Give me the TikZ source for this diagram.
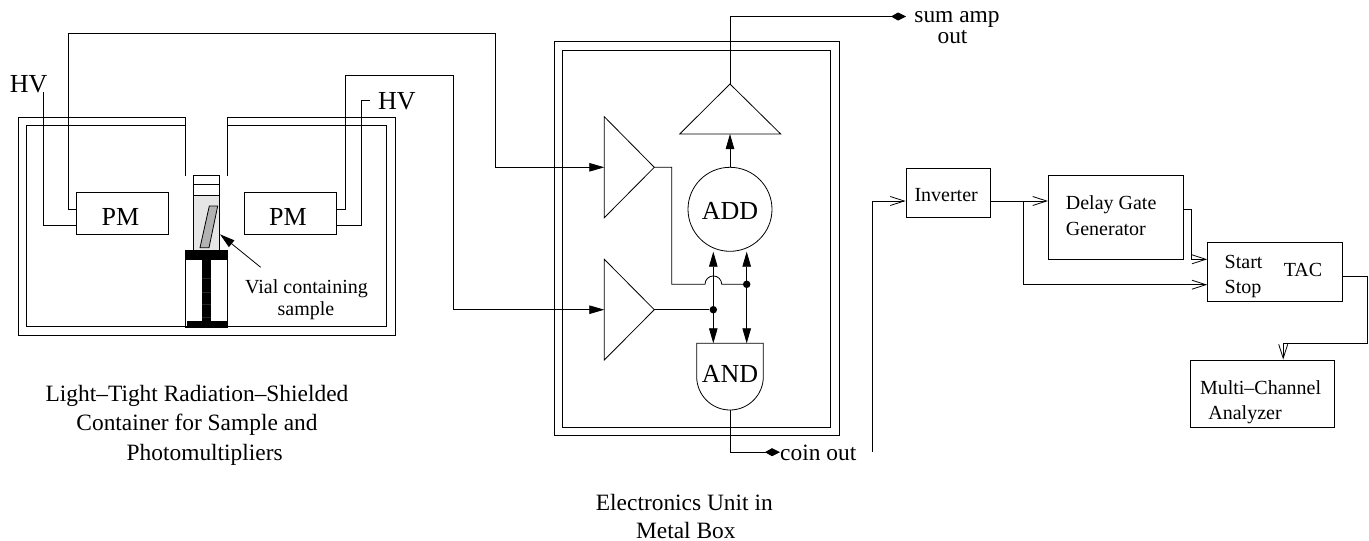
\documentclass[tikz,border=0pt]{standalone}
\usepackage{fontspec}
\setmainfont{Liberation Serif}
\usetikzlibrary{positioning, calc, arrows.meta}

\tikzset{
  wire/.style={draw=black, line width=0.8pt},
  sigwire/.style={wire, -{Triangle[length=15pt,width=8.5pt]}},
  bothwire/.style={wire, {Triangle[length=15pt,width=8.5pt]}-{Triangle[length=15pt,width=8.5pt]}},
  outwire/.style={wire, -{Kite[length=15pt,width=8pt,inset=7pt]}},
  barbwire/.style={wire, -{Straight Barb[length=14pt,width=9pt,line width=0.8pt]}},
  block/.style={draw=black, line width=0.8pt, inner sep=0pt, rectangle},
  bigtext/.style={font=\fontsize{26}{28}\selectfont, inner sep=0pt, anchor=base},
  smalltext/.style={font=\fontsize{20}{25}\selectfont, inner sep=0pt, anchor=base west},
  vialtext/.style={font=\fontsize{20}{22}\selectfont, inner sep=0pt, anchor=base},
  captext/.style={font=\fontsize{23.4}{29}\selectfont, inner sep=0pt, anchor=base},
  junct/.style={circle, fill=black, inner sep=0pt, minimum size=7.5pt}
}

\begin{document}
\begin{tikzpicture}[x=1pt, y=-1pt]
  \useasboundingbox (0,0) rectangle (1369,541);

  % shielded container
  \draw[wire] (185.5,176) -- (185.5,117) -- (18,117) -- (18,335) -- (395,335) -- (395,117) -- (227.5,117) -- (227.5,176);
  \draw[wire] (185.5,125.7) -- (26,125.7) -- (26,326.7) -- (386.7,326.7) -- (386.7,125.7) -- (227.5,125.7);

  % photomultipliers
  \node[block, minimum width=92.2pt, minimum height=42pt] (pml) at (122.6,213.3) {};
  \node[block, minimum width=92.3pt, minimum height=42pt] (pmr) at (290.2,213.3) {};
  \node[bigtext] (pmltext) at (120.5,225.7) {PM};
  \node[bigtext] (pmrtext) at (288,225.7) {PM};

  % vial and stand
  \fill[black!10] (193.7,195.7) rectangle (219.7,250);
  \draw[wire] (193.7,175.7) rectangle (219.7,250);
  \draw[wire] (193.7,184.3) -- (219.7,184.3);
  \draw[wire] (193.7,195.7) -- (219.7,195.7);
  \draw[wire, fill=black!30] (200,247.7) -- (209.3,206) -- (217.7,206) -- (209,247.7) -- cycle;
  \draw[wire] (185.5,250.7) rectangle (227.5,327);
  \fill[black] (185.5,250.7) rectangle (227.5,260);
  \fill[black] (202,260) rectangle (211,326);
  \fill[black] (186.7,320.7) rectangle (227.7,327);
  \foreach \tick in {278,292,304,317}
    \draw[black!85, line width=0.25pt] (202,\tick) -- (211,\tick);
  \coordinate (vialpt) at (220,234.3);
  \coordinate (vialfrom) at (260.7,267.3);
  \draw[sigwire] (vialfrom) -- (vialpt);
  \node[vialtext] (vialtexta) at (306.5,293) {Vial containing};
  \node[vialtext] (vialtextb) at (306,315) {sample};

  % electronics box
  \draw[wire] (554,41.7) rectangle (839,435.3);
  \draw[wire] (562.7,50) rectangle (830.3,427.3);

  % amplifiers
  \coordinate (ampa) at (604.3,167.3);
  \coordinate (ampb) at (604.3,309.7);
  \coordinate (ampatip) at (654.3,167.3);
  \coordinate (ampbtip) at (654.3,309.7);
  \draw[wire] (604.3,116.7) -- (ampatip) -- (604.3,217.7) -- cycle;
  \draw[wire] (604.3,259.3) -- (ampbtip) -- (604.3,360) -- cycle;
  \coordinate (sumtip) at (730,84);
  \coordinate (sumbase) at (730,134);
  \draw[wire] (679.7,134) -- (sumtip) -- (780.7,134) -- cycle;

  % add and and
  \node[circle, draw=black, line width=0.8pt, minimum size=84pt, inner sep=0pt] (add) at (730,209.3) {};
  \node[bigtext] at (730,219) {ADD};
  \draw[wire] (696.7,343.3) -- (763.3,343.3) -- (763.3,376.7) arc (0:180:33.3) -- cycle;
  \coordinate (andout) at (730,410);
  \node[bigtext] at (730,382.3) {AND};

  % wires from the photomultipliers
  \coordinate (hvl) at (43.3,92);
  \coordinate (hvr) at (370,100);
  \node[bigtext] (hvltext) at (28.7,92) {HV};
  \node[bigtext] (hvrtext) at (397,109.3) {HV};
  \draw[wire] (hvl) |- (pml.west |- 0,225.7);
  \draw[wire] (hvr) -- (361.7,100) |- (pmr.east |- 0,225.7);
  \draw[sigwire] (pml.west |- 0,209.7) -- (68.3,209.7) -- (68.3,33.3) -- (495.3,33.3) |- (ampa);
  \draw[sigwire] (pmr.east |- 0,209.7) -- (345,209.7) -- (345,75) -- (453.6,75) |- (ampb);

  % inside the box
  \coordinate (addl) at (713.3,251.7);
  \coordinate (addr) at (746.7,251.7);
  \coordinate (andl) at (713.3,343.3);
  \coordinate (andr) at (746.7,343.3);
  \node[junct] (jl) at (713.3,309.7) {};
  \node[junct] (jr) at (746.7,284.3) {};
  \draw[bothwire] (addl) -- (andl);
  \draw[bothwire] (addr) -- (andr);
  \draw[wire] (ampbtip) -- (jl);
  \draw[wire] (ampatip) -- (671.7,167.3) -- (671.7,284.3) -- (705,284.3) arc (180:360:8.35) -- (jr);
  \draw[sigwire] (add.north) -- (sumbase);

  % outputs
  \coordinate (sumout) at (906,16.5);
  \coordinate (coinout) at (780,452.2);
  \draw[outwire] (sumtip) -- (730,16.5) -- (sumout);
  \draw[outwire] (andout) |- (coinout);
  \node[captext] (sumtexta) at (957,22.7) {sum amp};
  \node[captext] (sumtextb) at (952.5,43.7) {out};
  \node[captext, anchor=base west] (cointext) at (780,460.7) {coin out};

  % captions
  \node[captext] (boxcapa) at (197,401.7) {Light--Tight Radiation--Shielded};
  \node[captext] (boxcapb) at (197,430.7) {Container for Sample and};
  \node[captext] (boxcapc) at (204.7,460.7) {Photomultipliers};
  \node[captext] (unitcapa) at (684.3,510.7) {Electronics Unit in};
  \node[captext] (unitcapb) at (685.8,538.3) {Metal Box};

  % timing chain
  \node[block, minimum width=84.1pt, minimum height=49pt] (inv) at (948,193.2) {};
  \node[smalltext] at (914.3,201.5) {Inverter};
  \node[block, minimum width=134.8pt, minimum height=83.6pt] (delay) at (1115.8,217.5) {};
  \node[smalltext] at (1065.7,209) {Delay Gate};
  \node[smalltext] at (1065.7,235.7) {Generator};
  \node[block, minimum width=134.8pt, minimum height=58.6pt] (tac) at (1275,272) {};
  \node[smalltext] at (1224.5,268.3) {Start};
  \node[smalltext] at (1224.5,293.3) {Stop};
  \node[smalltext] at (1283.6,276) {TAC};
  \node[block, minimum width=143.3pt, minimum height=67pt] (mca) at (1262.3,393.5) {};
  \node[smalltext] at (1199.8,394.3) {Multi--Channel};
  \node[smalltext] at (1208.2,419.3) {Analyzer};

  \coordinate (invin) at (872.4,451.7);
  \coordinate (branch) at (1023.4,201);
  \draw[barbwire] (invin) |- (inv.west |- 0,201);
  \draw[barbwire] (inv.east |- 0,201) -- (delay.west |- 0,201);
  \draw[barbwire] (branch) |- (tac.west |- 0,284.7);
  \draw[barbwire] (delay.east |- 0,209.3) -- (1191.4,209.3) |- (tac.west |- 0,259.3);
  \draw[barbwire] (tac.east |- 0,276.3) -- (1367,276.3) -- (1367,343) -- (1283.2,343) -- (mca.north -| 1283.2,0);
\end{tikzpicture}
\end{document}
